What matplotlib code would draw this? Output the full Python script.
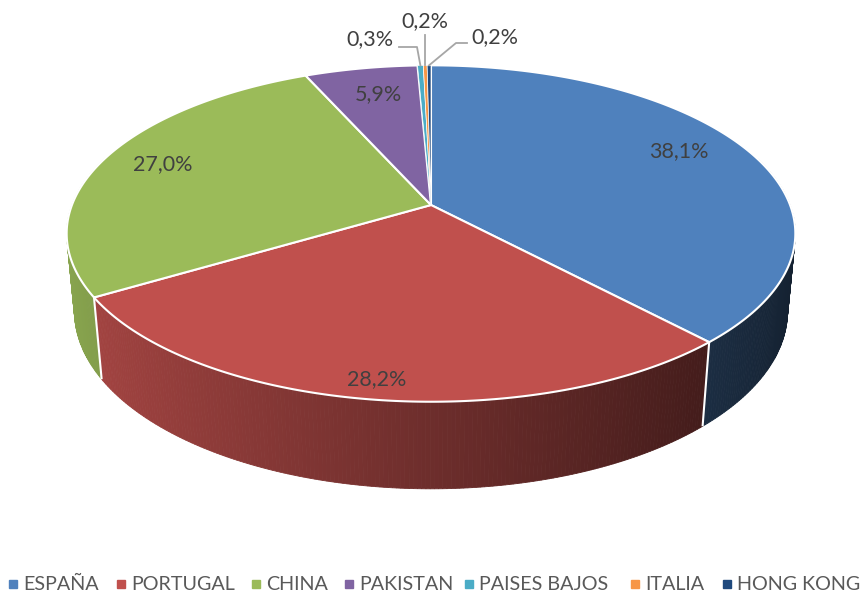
import numpy as np
import matplotlib
matplotlib.use("Agg")
import matplotlib.pyplot as plt
from matplotlib.patches import Polygon
from matplotlib import colors as mcolors

# ---- data ----
categories = ["ESPAÑA", "PORTUGAL", "CHINA", "PAKISTAN", "PAISES BAJOS", "ITALIA", "HONG KONG"]
values = [38.1, 28.2, 27.0, 5.9, 0.3, 0.2, 0.2]
labels = ["38,1%", "28,2%", "27,0%", "5,9%", "0,3%", "0,2%", "0,2%"]
slice_colors = ["#4F81BD", "#C0504D", "#9BBB59", "#8064A2", "#4BACC6", "#F79646", "#1F497D"]

plt.rcParams['font.family'] = ['Lato', 'DejaVu Sans']

W, H = 868, 595
fig = plt.figure(figsize=(W / 100, H / 100), dpi=100)
ax = fig.add_axes([0, 0, 1, 1])
ax.set_xlim(0, W)
ax.set_ylim(H, 0)
ax.axis("off")

# ---- 3D perspective model ----
cx, cy = 431.0, 205.0
F = 1885.0
D = 5.25
phi = np.arcsin(0.455)
cphi, sphi = np.cos(phi), np.sin(phi)
h = 0.245


def proj(X, Y, z=0.0):
    X = np.asarray(X, float)
    Y = np.asarray(Y, float)
    depth = D + Y * cphi - z * sphi
    up = Y * sphi + z * cphi
    return cx + F * X / depth, cy - F * up / depth


def ang_pt(theta, r=1.0, z=0.0):
    # theta clockwise from 12 o'clock
    return proj(r * np.sin(theta), r * np.cos(theta), z)


vals = np.array(values)
frac = vals / vals.sum()
bounds = np.concatenate([[0], np.cumsum(frac)]) * 2 * np.pi

# ---- outer walls (painter's order) ----
quads = []
for i, col in enumerate(slice_colors):
    t0, t1 = bounds[i], bounds[i + 1]
    n = max(2, int(np.ceil((t1 - t0) / 0.01)))
    ts = np.linspace(t0, t1, n + 1)
    base = np.array(mcolors.to_rgb(col))
    for a, b in zip(ts[:-1], ts[1:]):
        m = 0.5 * (a + b)
        Xm, Ym = np.sin(m), np.cos(m)
        if Ym > 0.3:
            continue
        fct = np.clip(0.57 - 0.32 * Xm, 0.2, 1.0)
        c = base * fct
        xa0, ya0 = ang_pt(a)
        xb0, yb0 = ang_pt(b)
        xa1, ya1 = ang_pt(a, z=-h)
        xb1, yb1 = ang_pt(b, z=-h)
        quads.append((Ym, [(xa0, ya0), (xb0, yb0), (xb1, yb1), (xa1, ya1)], c))
quads.sort(key=lambda q: -q[0])
for _, pts, c in quads:
    ax.add_patch(Polygon(pts, closed=True, facecolor=c, edgecolor=c, lw=0.6, zorder=1))

# white vertical edges at slice boundaries on the front wall
for t in bounds[1:-1]:
    if np.cos(t) < 0.1:
        x0, y0 = ang_pt(t)
        x1, y1 = ang_pt(t, z=-h)
        ax.plot([x0, x1], [y0, y1], color="white", lw=1.5, zorder=2, solid_capstyle="butt")

# ---- top faces ----
for i, col in enumerate(slice_colors):
    t0, t1 = bounds[i], bounds[i + 1]
    ts = np.linspace(t0, t1, max(3, int((t1 - t0) / 0.005)))
    xs, ys = ang_pt(ts)
    pts = [(cx, cy)] + list(zip(xs, ys))
    lw = 1.5 if frac[i] > 0.02 else 0.5
    ax.add_patch(Polygon(pts, closed=True, facecolor=col, edgecolor="white", lw=lw, zorder=3,
                         joinstyle="round"))

# ---- labels ----
label_pos = [(679, 151), (377, 379), (163, 164), (378, 94), (370, 39), (425, 21), (495, 37)]
for i, (lx, ly) in enumerate(label_pos):
    ax.text(lx, ly, labels[i], ha="center", va="center", fontsize=15.5, color="#404040", zorder=5)

# leader lines for the small slices
lc = "#A6A6A6"
mids = [0.5 * (bounds[i] + bounds[i + 1]) for i in range(len(values))]
px, py = ang_pt(mids[4]); ax.plot([399, 417, px], [47, 47, py], color=lc, lw=1.3, zorder=4)
px, py = ang_pt(mids[5]); ax.plot([px, px], [35, py], color=lc, lw=1.3, zorder=4)
px, py = ang_pt(mids[6]); ax.plot([467, 456, px], [43, 43, py], color=lc, lw=1.3, zorder=4)

# ---- legend (manual layout) ----
leg_sq_x = [13, 121, 256, 349, 469, 635, 727]
leg_y = 584
for i, (cat, col) in enumerate(zip(categories, slice_colors)):
    ax.plot([leg_sq_x[i]], [leg_y], marker="s", markersize=5.5, color=col, linestyle="none",
            clip_on=False)
    ax.text(leg_sq_x[i] + 10, leg_y, cat, ha="left", va="center", fontsize=14.2,
            color="#595959")

fig.savefig("out.png", dpi=100)
